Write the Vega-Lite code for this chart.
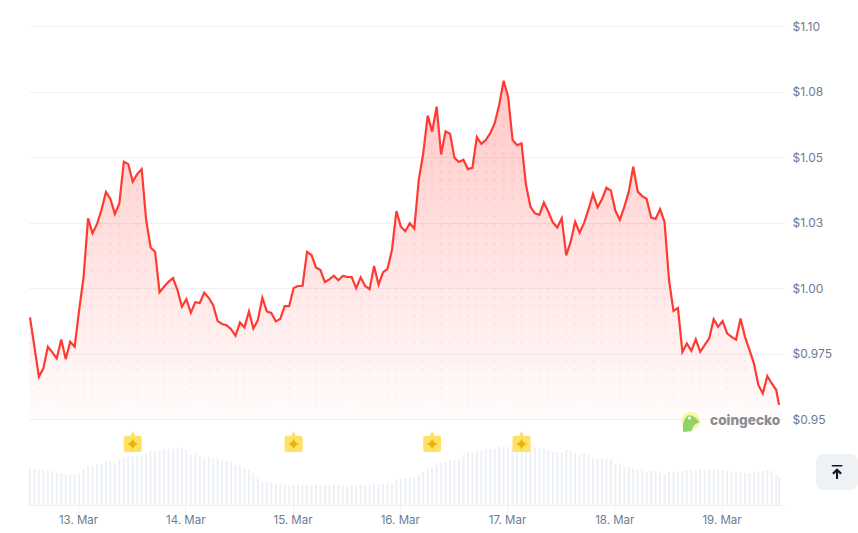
{
"$schema":"https://vega.github.io/schema/vega-lite/v6.json",
"width":755,"height":479,"autosize":{"type":"none"},
"padding":{"left":29,"top":26,"right":74,"bottom":28},
"background":"#ffffff",
"config":{"view":{"stroke":null},"font":"Inter"},
"data":{"values":[
{"t":"2025-03-12T13:15:00Z","price":0.9889,"volume":36.7},{"t":"2025-03-12T14:15:00Z","price":0.9777,"volume":35.7},{"t":"2025-03-12T15:15:00Z","price":0.9663,"volume":34.7},{"t":"2025-03-12T16:15:00Z","price":0.9695,"volume":34.7},{"t":"2025-03-12T17:15:00Z","price":0.9777,"volume":34.7},{"t":"2025-03-12T18:15:00Z","price":0.9756,"volume":33.7},{"t":"2025-03-12T19:15:00Z","price":0.9733,"volume":32.3},{"t":"2025-03-12T20:15:00Z","price":0.9805,"volume":31.7},{"t":"2025-03-12T21:15:00Z","price":0.973,"volume":30.7},{"t":"2025-03-12T22:15:00Z","price":0.9796,"volume":30.7},{"t":"2025-03-12T23:15:00Z","price":0.9777,"volume":30.7},
{"t":"2025-03-13T00:15:00Z","price":0.9917,"volume":31.7},{"t":"2025-03-13T01:15:00Z","price":1.0044,"volume":36.3},{"t":"2025-03-13T02:15:00Z","price":1.0267,"volume":38.7},{"t":"2025-03-13T03:15:00Z","price":1.021,"volume":38.7},{"t":"2025-03-13T04:15:00Z","price":1.0245,"volume":40.7},{"t":"2025-03-13T05:15:00Z","price":1.0299,"volume":40.7},{"t":"2025-03-13T06:15:00Z","price":1.0368,"volume":43},{"t":"2025-03-13T07:15:00Z","price":1.0341,"volume":43.7},{"t":"2025-03-13T08:15:00Z","price":1.0284,"volume":41.7},{"t":"2025-03-13T09:15:00Z","price":1.0324,"volume":45.7},{"t":"2025-03-13T10:15:00Z","price":1.0483,"volume":47.7},{"t":"2025-03-13T11:15:00Z","price":1.0474,"volume":48},{"t":"2025-03-13T12:15:00Z","price":1.0407,"volume":48.7},{"t":"2025-03-13T13:15:00Z","price":1.0436,"volume":48.7},{"t":"2025-03-13T14:15:00Z","price":1.0455,"volume":49.3},{"t":"2025-03-13T15:15:00Z","price":1.0261,"volume":51.3},{"t":"2025-03-13T16:15:00Z","price":1.0156,"volume":53.3},{"t":"2025-03-13T17:15:00Z","price":1.014,"volume":53.7},{"t":"2025-03-13T18:15:00Z","price":0.9985,"volume":54.3},{"t":"2025-03-13T19:15:00Z","price":1.0006,"volume":55.3},{"t":"2025-03-13T20:15:00Z","price":1.0025,"volume":56.3},{"t":"2025-03-13T21:15:00Z","price":1.0039,"volume":56.3},{"t":"2025-03-13T22:15:00Z","price":0.9994,"volume":56.7},{"t":"2025-03-13T23:15:00Z","price":0.993,"volume":57.3},
{"t":"2025-03-14T00:15:00Z","price":0.9959,"volume":55.3},{"t":"2025-03-14T01:15:00Z","price":0.9907,"volume":50.7},{"t":"2025-03-14T02:15:00Z","price":0.9947,"volume":50.7},{"t":"2025-03-14T03:15:00Z","price":0.9944,"volume":49},{"t":"2025-03-14T04:15:00Z","price":0.9983,"volume":46.7},{"t":"2025-03-14T05:15:00Z","price":0.9964,"volume":48.7},{"t":"2025-03-14T06:15:00Z","price":0.9936,"volume":47.3},{"t":"2025-03-14T07:15:00Z","price":0.9875,"volume":46.3},{"t":"2025-03-14T08:15:00Z","price":0.9864,"volume":45.3},{"t":"2025-03-14T09:15:00Z","price":0.9859,"volume":43.7},{"t":"2025-03-14T10:15:00Z","price":0.9844,"volume":42.7},{"t":"2025-03-14T11:15:00Z","price":0.9819,"volume":39.7},{"t":"2025-03-14T12:15:00Z","price":0.987,"volume":38.7},{"t":"2025-03-14T13:15:00Z","price":0.9851,"volume":37},{"t":"2025-03-14T14:15:00Z","price":0.9912,"volume":34.7},{"t":"2025-03-14T15:15:00Z","price":0.9847,"volume":31.7},{"t":"2025-03-14T16:15:00Z","price":0.9879,"volume":27.7},{"t":"2025-03-14T17:15:00Z","price":0.9964,"volume":22.7},{"t":"2025-03-14T18:15:00Z","price":0.9912,"volume":23.7},{"t":"2025-03-14T19:15:00Z","price":0.9906,"volume":22.7},{"t":"2025-03-14T20:15:00Z","price":0.9874,"volume":21.7},{"t":"2025-03-14T21:15:00Z","price":0.9883,"volume":20.7},{"t":"2025-03-14T22:15:00Z","price":0.9932,"volume":20.7},{"t":"2025-03-14T23:15:00Z","price":0.9932,"volume":19.7},
{"t":"2025-03-15T00:15:00Z","price":1.0001,"volume":20.7},{"t":"2025-03-15T01:15:00Z","price":1.0009,"volume":20},{"t":"2025-03-15T02:15:00Z","price":1.001,"volume":20},{"t":"2025-03-15T03:15:00Z","price":1.0139,"volume":20},{"t":"2025-03-15T04:15:00Z","price":1.0127,"volume":20},{"t":"2025-03-15T05:15:00Z","price":1.008,"volume":20},{"t":"2025-03-15T06:15:00Z","price":1.007,"volume":19.5},{"t":"2025-03-15T07:15:00Z","price":1.0024,"volume":20},{"t":"2025-03-15T08:15:00Z","price":1.0034,"volume":20},{"t":"2025-03-15T09:15:00Z","price":1.0048,"volume":20},{"t":"2025-03-15T10:15:00Z","price":1.0031,"volume":20},{"t":"2025-03-15T11:15:00Z","price":1.0047,"volume":19},{"t":"2025-03-15T12:15:00Z","price":1.0044,"volume":19},{"t":"2025-03-15T13:15:00Z","price":1.0043,"volume":20},{"t":"2025-03-15T14:15:00Z","price":1.0,"volume":19},{"t":"2025-03-15T15:15:00Z","price":1.0042,"volume":20},{"t":"2025-03-15T16:15:00Z","price":1.0009,"volume":19},{"t":"2025-03-15T17:15:00Z","price":0.9997,"volume":20},{"t":"2025-03-15T18:15:00Z","price":1.0085,"volume":21},{"t":"2025-03-15T19:15:00Z","price":1.0014,"volume":21},{"t":"2025-03-15T20:15:00Z","price":1.0061,"volume":21.5},{"t":"2025-03-15T21:15:00Z","price":1.0074,"volume":21.7},{"t":"2025-03-15T22:15:00Z","price":1.0146,"volume":21.7},{"t":"2025-03-15T23:15:00Z","price":1.0295,"volume":25},
{"t":"2025-03-16T00:15:00Z","price":1.0235,"volume":26},{"t":"2025-03-16T01:15:00Z","price":1.0218,"volume":26.7},{"t":"2025-03-16T02:15:00Z","price":1.0249,"volume":27.7},{"t":"2025-03-16T03:15:00Z","price":1.0228,"volume":26.7},{"t":"2025-03-16T04:15:00Z","price":1.0413,"volume":31},{"t":"2025-03-16T05:15:00Z","price":1.0515,"volume":33},{"t":"2025-03-16T06:15:00Z","price":1.0659,"volume":35.7},{"t":"2025-03-16T07:15:00Z","price":1.0598,"volume":37},{"t":"2025-03-16T08:15:00Z","price":1.0693,"volume":39.7},{"t":"2025-03-16T09:15:00Z","price":1.0511,"volume":42.7},{"t":"2025-03-16T10:15:00Z","price":1.0599,"volume":42.7},{"t":"2025-03-16T11:15:00Z","price":1.059,"volume":44.7},{"t":"2025-03-16T12:15:00Z","price":1.0498,"volume":44.7},{"t":"2025-03-16T13:15:00Z","price":1.0482,"volume":46.7},{"t":"2025-03-16T14:15:00Z","price":1.0491,"volume":50},{"t":"2025-03-16T15:15:00Z","price":1.0455,"volume":52.7},{"t":"2025-03-16T16:15:00Z","price":1.046,"volume":52.7},{"t":"2025-03-16T17:15:00Z","price":1.0577,"volume":53.7},{"t":"2025-03-16T18:15:00Z","price":1.0551,"volume":54.7},{"t":"2025-03-16T19:15:00Z","price":1.0566,"volume":55.7},{"t":"2025-03-16T20:15:00Z","price":1.0592,"volume":55.7},{"t":"2025-03-16T21:15:00Z","price":1.063,"volume":55.7},{"t":"2025-03-16T22:15:00Z","price":1.07,"volume":58.7},{"t":"2025-03-16T23:15:00Z","price":1.0792,"volume":57.7},
{"t":"2025-03-17T00:15:00Z","price":1.0731,"volume":57.7},{"t":"2025-03-17T01:15:00Z","price":1.0566,"volume":58.7},{"t":"2025-03-17T02:15:00Z","price":1.0546,"volume":58.7},{"t":"2025-03-17T03:15:00Z","price":1.0553,"volume":58.7},{"t":"2025-03-17T04:15:00Z","price":1.0394,"volume":58.7},{"t":"2025-03-17T05:15:00Z","price":1.0311,"volume":58.7},{"t":"2025-03-17T06:15:00Z","price":1.0286,"volume":57.7},{"t":"2025-03-17T07:15:00Z","price":1.028,"volume":56.7},{"t":"2025-03-17T08:15:00Z","price":1.0327,"volume":55.7},{"t":"2025-03-17T09:15:00Z","price":1.0292,"volume":54.7},{"t":"2025-03-17T10:15:00Z","price":1.0252,"volume":53},{"t":"2025-03-17T11:15:00Z","price":1.0232,"volume":53},{"t":"2025-03-17T12:15:00Z","price":1.0267,"volume":53},{"t":"2025-03-17T13:15:00Z","price":1.0126,"volume":55},{"t":"2025-03-17T14:15:00Z","price":1.0178,"volume":54},{"t":"2025-03-17T15:15:00Z","price":1.0254,"volume":52},{"t":"2025-03-17T16:15:00Z","price":1.0212,"volume":50},{"t":"2025-03-17T17:15:00Z","price":1.025,"volume":52},{"t":"2025-03-17T18:15:00Z","price":1.0302,"volume":50},{"t":"2025-03-17T19:15:00Z","price":1.036,"volume":47},{"t":"2025-03-17T20:15:00Z","price":1.0309,"volume":47},{"t":"2025-03-17T21:15:00Z","price":1.034,"volume":47},{"t":"2025-03-17T22:15:00Z","price":1.0384,"volume":46},{"t":"2025-03-17T23:15:00Z","price":1.0373,"volume":46},
{"t":"2025-03-18T00:15:00Z","price":1.0296,"volume":41},{"t":"2025-03-18T01:15:00Z","price":1.0261,"volume":42},{"t":"2025-03-18T02:15:00Z","price":1.0311,"volume":38},{"t":"2025-03-18T03:15:00Z","price":1.0369,"volume":38},{"t":"2025-03-18T04:15:00Z","price":1.0464,"volume":36},{"t":"2025-03-18T05:15:00Z","price":1.0369,"volume":35},{"t":"2025-03-18T06:15:00Z","price":1.0352,"volume":35},{"t":"2025-03-18T07:15:00Z","price":1.0341,"volume":33},{"t":"2025-03-18T08:15:00Z","price":1.027,"volume":34},{"t":"2025-03-18T09:15:00Z","price":1.0265,"volume":34},{"t":"2025-03-18T10:15:00Z","price":1.0302,"volume":32},{"t":"2025-03-18T11:15:00Z","price":1.0254,"volume":31},{"t":"2025-03-18T12:15:00Z","price":1.0032,"volume":33},{"t":"2025-03-18T13:15:00Z","price":0.9914,"volume":33},{"t":"2025-03-18T14:15:00Z","price":0.9925,"volume":34},{"t":"2025-03-18T15:15:00Z","price":0.9757,"volume":34},{"t":"2025-03-18T16:15:00Z","price":0.979,"volume":35},{"t":"2025-03-18T17:15:00Z","price":0.9762,"volume":35},{"t":"2025-03-18T18:15:00Z","price":0.9805,"volume":35},{"t":"2025-03-18T19:15:00Z","price":0.9758,"volume":36},{"t":"2025-03-18T20:15:00Z","price":0.9784,"volume":35},{"t":"2025-03-18T21:15:00Z","price":0.9809,"volume":35},{"t":"2025-03-18T22:15:00Z","price":0.9882,"volume":35},{"t":"2025-03-18T23:15:00Z","price":0.9853,"volume":35},
{"t":"2025-03-19T00:15:00Z","price":0.9875,"volume":35},{"t":"2025-03-19T01:15:00Z","price":0.9828,"volume":34},{"t":"2025-03-19T02:15:00Z","price":0.9815,"volume":33},{"t":"2025-03-19T03:15:00Z","price":0.9804,"volume":33},{"t":"2025-03-19T04:15:00Z","price":0.9885,"volume":33},{"t":"2025-03-19T05:15:00Z","price":0.9815,"volume":32},{"t":"2025-03-19T06:15:00Z","price":0.9765,"volume":32},{"t":"2025-03-19T07:15:00Z","price":0.9714,"volume":32},{"t":"2025-03-19T08:15:00Z","price":0.9631,"volume":34},{"t":"2025-03-19T09:15:00Z","price":0.9599,"volume":34},{"t":"2025-03-19T10:15:00Z","price":0.9665,"volume":35},{"t":"2025-03-19T11:15:00Z","price":0.9637,"volume":34},{"t":"2025-03-19T12:15:00Z","price":0.9612,"volume":30},{"t":"2025-03-19T12:52:00Z","price":0.9555,"volume":28}
]},
"encoding":{"x":{"field":"t","type":"temporal","title":null,"scale":{"type":"utc","nice":false,"padding":0,"domain":[{"year":2025,"month":3,"date":12,"hours":13,"minutes":2,"utc":true},{"year":2025,"month":3,"date":19,"hours":13,"minutes":59,"utc":true}]},
 "axis":{"format":"%-d. %b","tickCount":{"interval":"day","step":1},"grid":false,"domainColor":"#eff1f4","tickColor":"#eff1f4","tickSize":10,"labelPadding":-1,"labelColor":"#6d7b92","labelFont":"Inter","labelFontSize":11.5,"labelOverlap":false}}},
"resolve":{"scale":{"y":"independent"}},
"layer":[
{"mark":{"type":"area","line":false,"color":{"gradient":"linear","x1":0,"y1":0,"x2":0,"y2":1,"stops":[{"offset":0,"color":"rgba(255,58,51,0.28)"},{"offset":1,"color":"rgba(255,58,51,0.01)"}]}},
 "encoding":{"y":{"field":"price","type":"quantitative","title":null,"scale":{"domain":[0.91734,1.1001],"nice":false,"zero":false},
   "axis":{"orient":"right","values":[0.95,0.975,1.0,1.025,1.05,1.075,1.1],"labelExpr":"datum.value<0.96||datum.value>1.09||datum.value==1?'$'+format(datum.value,'.2f'):datum.value==0.975?'$0.975':'$'+format(datum.value+0.0001,'.2f')","grid":true,"gridColor":"#eff1f4","gridWidth":1,"domain":false,"ticks":false,"labelPadding":8,"labelColor":"#6d7b92","labelFont":"Inter","labelFontSize":12,"labelBound":false}},
  "y2":{"datum":0.95}}},
{"transform":[{"filter":"utchours(toDate(datum.t))%2==1"},{"calculate":"[0.95519,0.95863,0.96206,0.9655,0.96894,0.97237,0.97581,0.97925,0.98269,0.98612,0.98956,0.993,0.99643,0.99987,1.00331,1.00675,1.01018,1.01362,1.01706,1.02049,1.02393,1.02737,1.0308,1.03424,1.03768,1.04112,1.04455,1.04799,1.05143,1.05486,1.0583,1.06174,1.06518,1.06861,1.07205,1.07549,1.07892]","as":"dot"},{"flatten":["dot"]},{"filter":"datum.dot<datum.price-0.0015"}],
 "mark":{"type":"point","filled":true,"color":"#ff5a55","size":6},
 "encoding":{"y":{"field":"dot","type":"quantitative","title":null,"scale":{"domain":[0.91734,1.1001],"nice":false,"zero":false},"axis":null},"opacity":{"field":"dot","type":"quantitative","legend":null,"scale":{"domain":[0.955,1.08],"range":[0.06,0.16]}}}},
{"mark":{"type":"bar","size":2,"color":"#edf1f5"},
 "encoding":{"y":{"field":"volume","type":"quantitative","title":null,"scale":{"domain":[0,479],"nice":false},"axis":null}}},
{"mark":{"type":"line","color":"#ff3a33","strokeWidth":2.2,"strokeJoin":"miter","interpolate":"linear"},
 "encoding":{"y":{"field":"price","type":"quantitative","title":null,"scale":{"domain":[0.91734,1.1001],"nice":false,"zero":false},"axis":null}}},
{"data":{"values":[{"t":"2025-03-13T12:15:00Z","level":62},{"t":"2025-03-15T00:15:00Z","level":62},{"t":"2025-03-16T07:15:00Z","level":62},{"t":"2025-03-17T03:15:00Z","level":62}]},
 "mark":{"type":"point","filled":true,"opacity":1,"color":"#ffe166","size":324,"shape":"M -0.75 -0.8 L -0.25 -0.8 L 0 -1.33 L 0.25 -0.8 L 0.75 -0.8 Q 1 -0.8 1 -0.55 L 1 0.75 Q 1 1 0.75 1 L -0.75 1 Q -1 1 -1 0.75 L -1 -0.55 Q -1 -0.8 -0.75 -0.8 Z"},
 "encoding":{"y":{"field":"level","type":"quantitative","title":null,"scale":{"domain":[0,479],"nice":false},"axis":null}}},
{"data":{"values":[{"t":"2025-03-13T12:15:00Z","level":61},{"t":"2025-03-15T00:15:00Z","level":61},{"t":"2025-03-16T07:15:00Z","level":61},{"t":"2025-03-17T03:15:00Z","level":61}]},
 "mark":{"type":"point","filled":true,"opacity":1,"color":"#eab308","size":121,"shape":"M 0 -1 Q 0.2 -0.2 1 0 Q 0.2 0.2 0 1 Q -0.2 0.2 -1 0 Q -0.2 -0.2 0 -1 Z"},
 "encoding":{"y":{"field":"level","type":"quantitative","title":null,"scale":{"domain":[0,479],"nice":false},"axis":null}}},
{"data":{"values":[{"t":"2025-03-18T17:06:00Z","level":84}]},
 "mark":{"type":"point","filled":true,"opacity":1,"color":"#fdf3a7","size":346,"shape":"circle"},
 "encoding":{"y":{"field":"level","type":"quantitative","title":null,"scale":{"domain":[0,479],"nice":false},"axis":null}}},
{"data":{"values":[{"t":"2025-03-18T17:06:00Z","level":84}]},
 "mark":{"type":"point","filled":true,"opacity":1,"color":"#8fd36b","size":454,"shape":"M -0.7 1 C -0.85 0.2 -0.5 -0.55 -0.1 -0.55 C 0.3 -0.55 0.6 -0.2 0.85 0.15 C 0.5 0.2 0.2 0.4 0.1 0.95 Q -0.3 1.05 -0.7 1 Z"},
 "encoding":{"y":{"field":"level","type":"quantitative","title":null,"scale":{"domain":[0,479],"nice":false},"axis":null}}},
{"data":{"values":[{"t":"2025-03-18T16:48:00Z","level":87}]},
 "mark":{"type":"point","filled":true,"opacity":1,"color":"#ffffff","size":9,"shape":"circle"},
 "encoding":{"y":{"field":"level","type":"quantitative","title":null,"scale":{"domain":[0,479],"nice":false},"axis":null}}},
{"data":{"values":[{"t":"2025-03-18T21:26:00Z","level":84,"label":"coingecko"}]},
 "mark":{"type":"text","align":"left","baseline":"middle","font":"Inter","fontWeight":800,"fontSize":13.6,"color":"#8a8c90"},
 "encoding":{"text":{"field":"label"},"y":{"field":"level","type":"quantitative","title":null,"scale":{"domain":[0,479],"nice":false},"axis":null}}},
{"data":{"values":[{"t":"2025-03-20T01:51:00Z","level":33}]},
 "mark":{"type":"point","filled":true,"opacity":1,"color":"#eff2f5","size":1764,"shape":"M -0.62 -0.857 L 0.62 -0.857 Q 1 -0.857 1 -0.48 L 1 0.48 Q 1 0.857 0.62 0.857 L -0.62 0.857 Q -1 0.857 -1 0.48 L -1 -0.48 Q -1 -0.857 -0.62 -0.857 Z"},
 "encoding":{"y":{"field":"level","type":"quantitative","title":null,"scale":{"domain":[0,479],"nice":false},"axis":null}}},
{"data":{"values":[{"t":"2025-03-20T01:51:00Z","level":33}]},
 "mark":{"type":"point","filled":true,"opacity":1,"color":"#111827","size":196,"shape":"M -0.75 -1 L 0.75 -1 L 0.75 -0.8 L -0.75 -0.8 Z M 0 -0.55 L 0.7 0.15 L 0.45 0.35 L 0.15 0.05 L 0.15 1 L -0.15 1 L -0.15 0.05 L -0.45 0.35 L -0.7 0.15 Z"},
 "encoding":{"y":{"field":"level","type":"quantitative","title":null,"scale":{"domain":[0,479],"nice":false},"axis":null}}}
]
}
